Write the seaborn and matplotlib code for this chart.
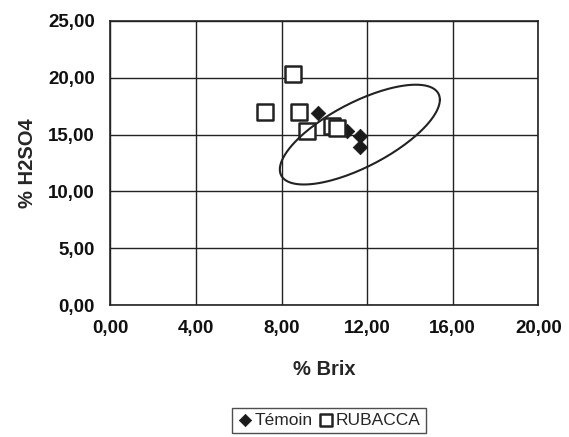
import numpy as np
import pandas as pd
import matplotlib
matplotlib.use("Agg")
import matplotlib.pyplot as plt
import seaborn as sns
from matplotlib.ticker import FuncFormatter

# --- Data ---
temoin_brix = [9.70, 10.49, 10.80, 11.05, 11.66, 11.66]
temoin_h2so4 = [16.90, 15.80, 15.50, 15.35, 14.90, 13.95]

rubacca_brix = [8.53, 7.22, 8.81, 9.18, 10.35, 10.58]
rubacca_h2so4 = [20.30, 17.00, 17.00, 15.30, 15.80, 15.60]

# hand-drawn ellipse around the control group (centre + axes in data units)
ell_center = (11.66, 15.0)
ell_u = (3.74, 3.07)
ell_v = (0.0, 3.14)

x_ticks = [0, 4, 8, 12, 16, 20]
y_ticks = [0, 5, 10, 15, 20, 25]

# --- Style ---
sns.set_style("white")
plt.rcParams['font.family'] = ['Liberation Sans', 'DejaVu Sans']

df = pd.concat([
    pd.DataFrame({'brix': temoin_brix, 'h2so4': temoin_h2so4, 'group': 'Témoin'}),
    pd.DataFrame({'brix': rubacca_brix, 'h2so4': rubacca_h2so4, 'group': 'RUBACCA'}),
])

fig = plt.figure(figsize=(5.69, 4.37), dpi=100)
ax = fig.add_axes([0.194, 0.302, 0.752, 0.650])

# grid
ax.grid(True, color='#222222', linewidth=1.0)
ax.set_axisbelow(True)

sns.scatterplot(data=df[df.group == 'Témoin'], x='brix', y='h2so4', marker='D',
                s=55, color='#1a1a1a', edgecolor='#1a1a1a', linewidth=0.5,
                ax=ax, label='Témoin', zorder=3)
sns.scatterplot(data=df[df.group == 'RUBACCA'], x='brix', y='h2so4', marker='s',
                s=120, facecolor='white', edgecolor='#222222', linewidth=1.8,
                ax=ax, label='RUBACCA', zorder=4)

t = np.linspace(0, 2 * np.pi, 200)
ex = ell_center[0] + ell_u[0] * np.cos(t) + ell_v[0] * np.sin(t)
ey = ell_center[1] + ell_u[1] * np.cos(t) + ell_v[1] * np.sin(t)
ax.plot(ex, ey, color='#222222', linewidth=1.5, zorder=5)

ax.set_xlim(0, 20)
ax.set_ylim(0, 25)
ax.set_xticks(x_ticks)
ax.set_yticks(y_ticks)
fmt = FuncFormatter(lambda v, p: f"{v:.2f}".replace('.', ','))
ax.xaxis.set_major_formatter(fmt)
ax.yaxis.set_major_formatter(fmt)
ax.tick_params(axis='both', direction='out', length=5, width=1, color='#222222',
               labelsize=13.5, pad=6)
for lab in ax.get_xticklabels() + ax.get_yticklabels():
    lab.set_fontweight('bold')
    lab.set_color('#111111')

for sp in ax.spines.values():
    sp.set_color('#222222')
    sp.set_linewidth(1.2)

ax.set_xlabel('% Brix', fontsize=14.5, fontweight='bold', labelpad=16)
ax.set_ylabel('% H2SO4', fontsize=14.5, fontweight='bold', labelpad=8)

ax.get_legend().remove()
handles, labels = ax.get_legend_handles_labels()
leg = fig.legend(handles, labels, loc='center', bbox_to_anchor=(0.578, 0.038),
                 ncol=2, frameon=True, fancybox=False, edgecolor='#222222',
                 fontsize=12.5, handletextpad=0.1, columnspacing=0.3,
                 borderpad=0.3, handlelength=0.9, markerscale=0.85)
leg.get_frame().set_linewidth(1.0)

plt.savefig('out.png', dpi=100)
plt.close()
